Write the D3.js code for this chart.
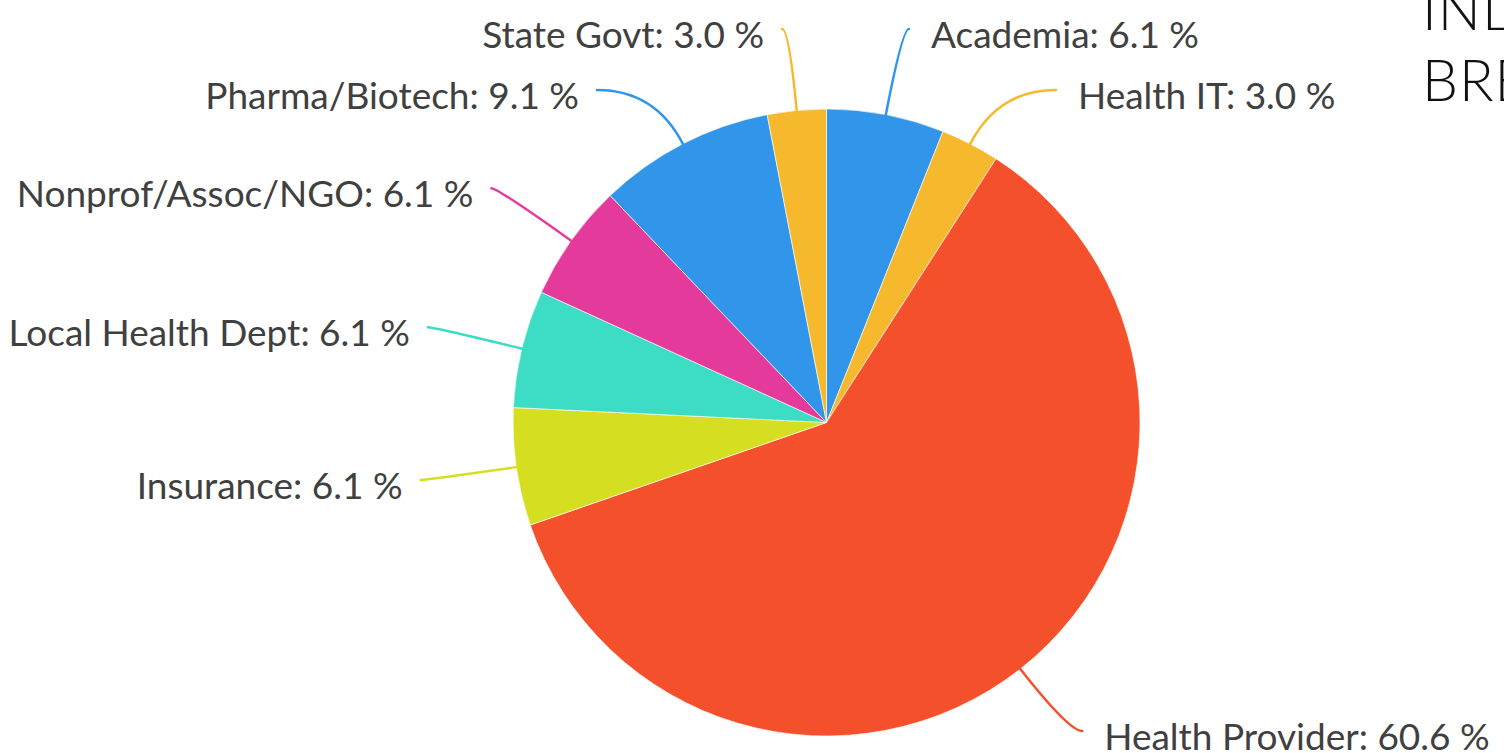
<!DOCTYPE html>
<html>
<head>
<meta charset="utf-8">
<script src="https://cdn.jsdelivr.net/npm/d3@7"></script>
<style>
  html, body { margin: 0; padding: 0; background: #fff; overflow: hidden; }
  svg { display: block; }
</style>
</head>
<body>
<div id="chart"></div>
<script>
// data
const categories = ["Academia", "Health IT", "Health Provider", "Insurance",
  "Local Health Dept", "Nonprof/Assoc/NGO", "Pharma/Biotech", "State Govt"];
const counts = [2, 1, 20, 2, 2, 2, 3, 1];
const sliceColors = ["#3196ea", "#f6b92d", "#f5502c", "#d6de21",
  "#3ddcc4", "#e33a9b", "#3196ea", "#f6b92d"];
const titleLines = ["INDUSTRY", "BREAKDOWN"];

const width = 1504, height = 753;
const cx = 826.5, cy = 422.5, radius = 313.5;
const labelR = 404;
const gap = 61;         // min vertical spacing between labels
const topY = 29, bottomY = 731;

const data = categories.map((c, i) => ({name: c, value: counts[i], color: sliceColors[i]}));
const total = d3.sum(counts);
const fmt = d3.format(".1f");

const svg = d3.select("#chart").append("svg")
  .attr("width", width)
  .attr("height", height);

const pie = d3.pie().sort(null).value(d => d.value);
const arcs = pie(data);
const arc = d3.arc().innerRadius(0).outerRadius(radius);

const g = svg.append("g").attr("transform", `translate(${cx},${cy})`);

g.selectAll("path.slice")
  .data(arcs)
  .join("path")
    .attr("class", "slice")
    .attr("d", arc)
    .attr("fill", d => d.data.color)
    .attr("stroke", "rgba(255,255,255,0.6)")
    .attr("stroke-width", 1);

// label layout: natural spot on a bigger circle, then push apart vertically
arcs.forEach(d => {
  const a = (d.startAngle + d.endAngle) / 2;
  d.mid = a;
  d.side = Math.sin(a) >= 0 ? 1 : -1;
  d.sx = radius * Math.sin(a);
  d.sy = -radius * Math.cos(a);
  d.nx = labelR * Math.sin(a);
  d.ny = -labelR * Math.cos(a);
  d.ly = Math.min(Math.max(d.ny, topY - cy), bottomY - cy);
  d.pushed = false;
});

[1, -1].forEach(side => {
  const list = arcs.filter(d => d.side === side).sort((a, b) => a.ly - b.ly);
  for (let i = 1; i < list.length; i++) {
    if (list[i].ly < list[i - 1].ly + gap) {
      list[i].ly = list[i - 1].ly + gap;
      list[i].pushed = true;
    }
  }
});

arcs.forEach(d => {
  if (d.pushed) {
    const dy = Math.min(Math.abs(d.ly), labelR);
    d.lx = d.side * Math.sqrt(labelR * labelR - dy * dy);
  } else {
    d.lx = d.nx + d.side * 6;
  }
  // control point: slice direction extended to the label's height
  const dirx = Math.sin(d.mid), diry = -Math.cos(d.mid);
  const t = Math.abs(diry) > 0.05 ? (d.ly - d.sy) / diry : 40;
  d.cx1 = d.sx + dirx * Math.max(t, 0);
});

g.selectAll("path.tick")
  .data(arcs)
  .join("path")
    .attr("class", "tick")
    .attr("fill", "none")
    .attr("stroke", d => d.data.color)
    .attr("stroke-width", 2.5)
    .attr("stroke-linecap", "round")
    .attr("d", d => `M${d.sx},${d.sy}Q${d.cx1},${d.ly} ${d.lx},${d.ly}`);

g.selectAll("text.lbl")
  .data(arcs)
  .join("text")
    .attr("class", "lbl")
    .attr("x", d => d.lx + d.side * (d.side > 0 ? 22 : 18))
    .attr("y", d => d.ly + 19)
    .attr("text-anchor", d => d.side > 0 ? "start" : "end")
    .style("font-family", "Lato, 'Noto Sans', sans-serif")
    .style("font-size", "37px")
    .style("fill", "#404040")
    .text(d => `${d.data.name}: ${fmt(d.data.value / total * 100)} %`);

// title, mostly cut off by the right edge (as in the reference)
svg.append("g")
  .selectAll("text")
  .data(titleLines)
  .join("text")
    .attr("x", 1422)
    .attr("y", (d, i) => 30 + i * 71)
    .style("font-family", "Lato, sans-serif")
    .style("font-weight", 300)
    .style("font-size", "57px")
    .style("letter-spacing", "1px")
    .style("fill", "#111")
    .text(d => d);
</script>
</body>
</html>
